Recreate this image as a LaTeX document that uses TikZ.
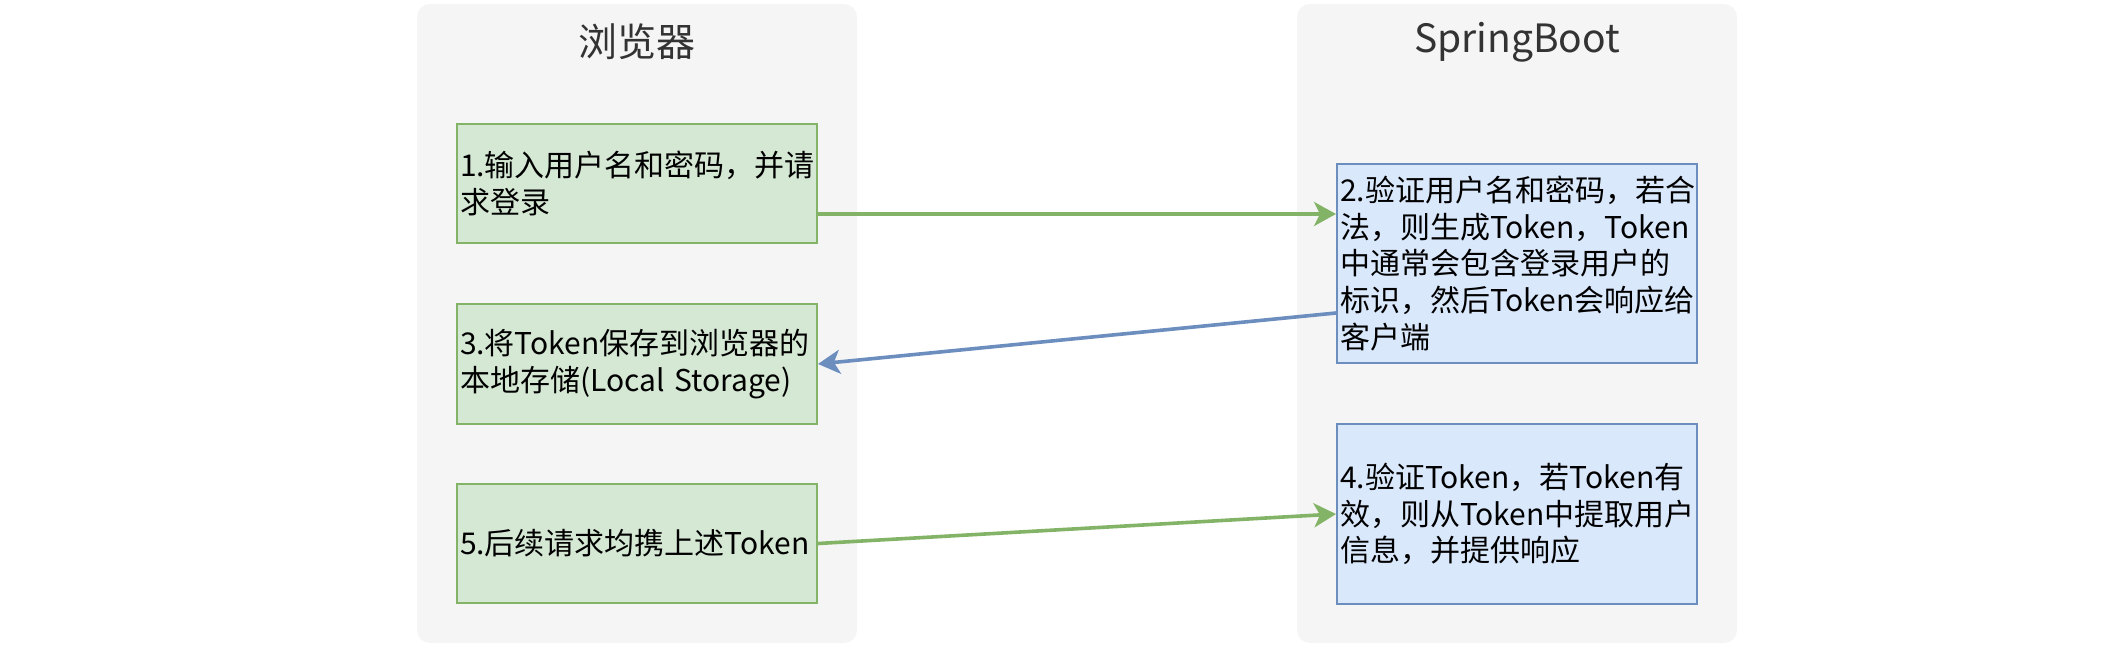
\documentclass[tikz,border=0pt]{standalone}
\usepackage{fontspec}
\setmainfont{Noto Sans CJK SC}
\usepackage{tikz}
\usetikzlibrary{arrows.meta}
\definecolor{panelbg}{HTML}{F5F5F5}
\definecolor{titlegray}{HTML}{333333}
\definecolor{greenfill}{HTML}{D5E8D4}
\definecolor{greenline}{HTML}{82B366}
\definecolor{bluefill}{HTML}{DAE8FC}
\definecolor{blueline}{HTML}{6C8EBF}

\begin{document}
\begin{tikzpicture}[x=0.5pt,y=-0.5pt,
    panel/.style={fill=panelbg, rounded corners=6.5pt},
    title/.style={text=titlegray, font=\fontsize{19.5pt}{23pt}\selectfont},
    box/.style={draw, line width=1pt, text width=177pt, inner xsep=1.5pt, inner ysep=0pt, align=left, font=\fontsize{15pt}{18.3pt}\selectfont},
    gbox/.style={box, fill=greenfill, draw=greenline},
    bbox/.style={box, fill=bluefill, draw=blueline},
    msg/.style={line width=1.8pt, -{Stealth[length=11pt,width=12pt,inset=3pt]}}] % 7 nodes
      \useasboundingbox (0,0) rectangle (2122,648);
      \fill[panel] (417,4) rectangle (857,643);
      \fill[panel] (1297,4) rectangle (1737,643);
      \node[title] (browser) at (637,42) {浏览器};
      \node[title] (server) at (1517,42) {SpringBoot};
      \node[gbox, minimum height=59.5pt] (login) at (637,183.5) {1.输入用户名和密码，并请\\求登录};
      \node[gbox, minimum height=60pt] (store) at (637,364) {3.将Token保存到浏览器的\\本地存储(Local Storage)};
      \node[gbox, minimum height=59.5pt] (later) at (637,543.5) {5.后续请求均携上述Token};
      \node[bbox, minimum height=99.5pt] (issue) at (1517,263.5) {2.验证用户名和密码，若合\\法，则生成Token，Token\\中通常会包含登录用户的\\标识，然后Token会响应给\\客户端};
      \node[bbox, minimum height=90pt] (check) at (1517,514) {4.验证Token，若Token有\\效，则从Token中提取用户\\信息，并提供响应};
      \coordinate (out1) at ([yshift=-15.25pt]login.east);
      \coordinate (out2) at ([yshift=-24.75pt]issue.west);
      \draw[msg, draw=greenline] (out1) -- (out1 -| issue.west);
      \draw[msg, draw=blueline] (out2) -- (store.east);
      \draw[msg, draw=greenline] (later.east) -- (check.west);
   \end{tikzpicture}
\end{document}
